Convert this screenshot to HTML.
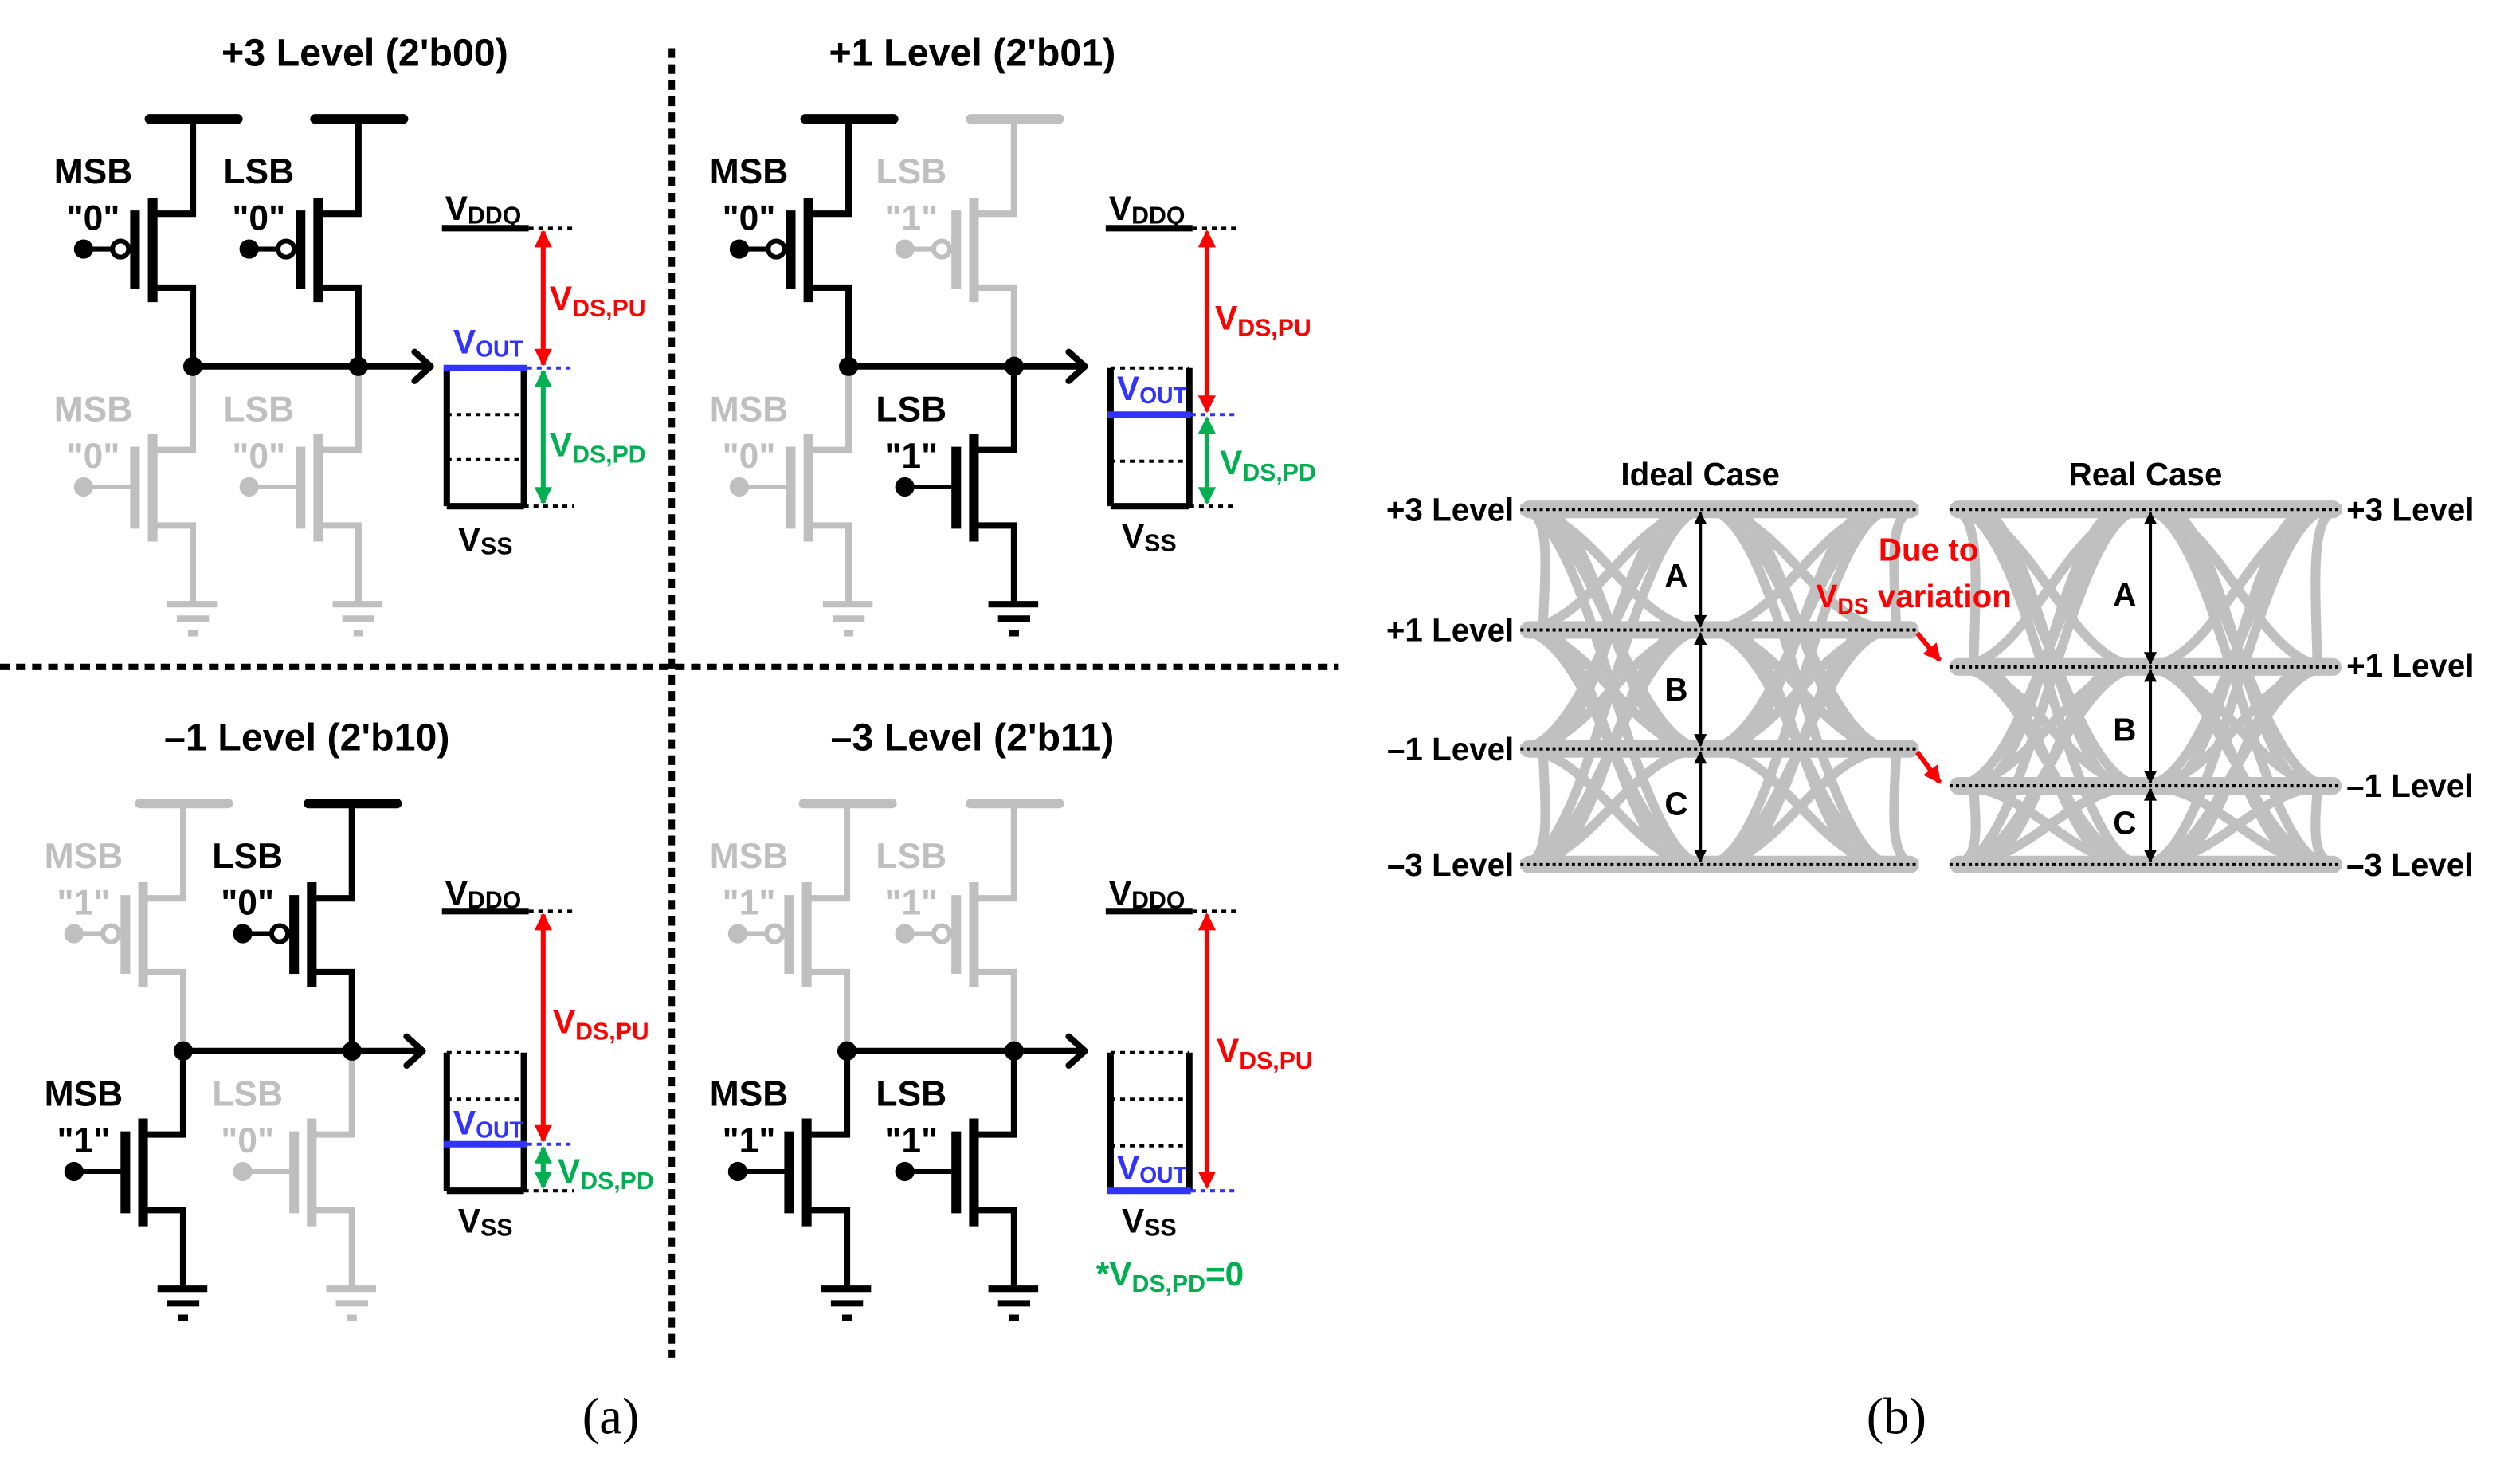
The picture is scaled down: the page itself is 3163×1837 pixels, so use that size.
<!DOCTYPE html>
<html><head><meta charset="utf-8"><style>
html,body{margin:0;padding:0;background:#fff}
svg{display:block}
text{font-family:"Liberation Sans",Arial,sans-serif;font-weight:bold}
</style></head><body>
<svg width="3163" height="1837" viewBox="0 0 1568 911" preserveAspectRatio="none" xmlns="http://www.w3.org/2000/svg">
<defs>
<marker id="ar" viewBox="0 0 10 10" refX="9" refY="5" markerWidth="12" markerHeight="11" markerUnits="userSpaceOnUse" orient="auto-start-reverse"><path d="M0 0L10 5L0 10z" fill="#f00"/></marker>
<marker id="ag" viewBox="0 0 10 10" refX="9" refY="5" markerWidth="12" markerHeight="11" markerUnits="userSpaceOnUse" orient="auto-start-reverse"><path d="M0 0L10 5L0 10z" fill="#00b050"/></marker>
<marker id="ak" viewBox="0 0 10 10" refX="9" refY="5" markerWidth="10" markerHeight="8" markerUnits="userSpaceOnUse" orient="auto-start-reverse"><path d="M0 0L10 5L0 10z" fill="#000"/></marker>
<g id="pm" fill="none" stroke="currentColor">
 <path d="M0 -59V0H-25M-25 46H0V95" stroke-width="4"/>
 <path d="M-25 -10V55M-36 -2V47" stroke-width="6"/>
 <path d="M-27 -59H28" stroke-width="6" stroke-linecap="round"/>
 <path d="M-68 22H-50" stroke-width="3"/>
 <circle cx="-45" cy="22" r="5" stroke-width="3" fill="#fff"/>
 <circle cx="-68" cy="22" r="6" fill="currentColor" stroke="none"/>
</g>
<g id="nm" fill="none" stroke="currentColor">
 <path d="M0 -52V0H-25M-25 47H0V96" stroke-width="4"/>
 <path d="M-25 -10V57M-36 -2V49" stroke-width="6"/>
 <path d="M-68 23H-36" stroke-width="3"/>
 <circle cx="-68" cy="23" r="6" fill="currentColor" stroke="none"/>
 <path d="M-16 96H15M-10 105H10M-3 114H3" stroke-width="4"/>
</g>
<g id="ei" fill="none" stroke="#c0c0c0" stroke-width="6">
 <path d="M-58 317C-12 317 12 392 58 392M-58 392C-12 392 12 317 58 317M-58 317C-12 317 12 466 58 466M-58 466C-12 466 12 317 58 317M-58 317C-12 317 12 538 58 538M-58 538C-12 538 12 317 58 317M-58 392C-12 392 12 466 58 466M-58 466C-12 466 12 392 58 392M-58 392C-12 392 12 538 58 538M-58 538C-12 538 12 392 58 392M-58 466C-12 466 12 538 58 538M-58 538C-12 538 12 466 58 466"/>
 <path d="M-46 317C-8 317 8 466 46 466M-46 466C-8 466 8 317 46 317M-46 392C-8 392 8 538 46 538M-46 538C-8 538 8 392 46 392"/>
</g>
<g id="er" fill="none" stroke="#c0c0c0" stroke-width="6">
 <path d="M-58 317C-12 317 12 415 58 415M-58 415C-12 415 12 317 58 317M-58 317C-12 317 12 489 58 489M-58 489C-12 489 12 317 58 317M-58 317C-12 317 12 538 58 538M-58 538C-12 538 12 317 58 317M-58 415C-12 415 12 489 58 489M-58 489C-12 489 12 415 58 415M-58 415C-12 415 12 538 58 538M-58 538C-12 538 12 415 58 415M-58 489C-12 489 12 538 58 538M-58 538C-12 538 12 489 58 489"/>
 <path d="M-46 317C-8 317 8 489 46 489M-46 489C-8 489 8 317 46 317M-46 415C-8 415 8 538 46 538M-46 538C-8 538 8 415 46 415"/>
</g>
</defs>

<path d="M418 30V845M0 415H833" stroke="#000" stroke-width="4" stroke-dasharray="6 4" fill="none"/>

<g font-size="24" text-anchor="middle">
<text x="227" y="41">+3 Level (2'b00)</text>
<text x="605" y="41">+1 Level (2'b01)</text>
<text x="191" y="467">–1 Level (2'b10)</text>
<text x="605" y="467">–3 Level (2'b11)</text>
</g>

<use href="#pm" x="120" y="133" style="color:#000"/>
<use href="#pm" x="223" y="133" style="color:#000"/>
<use href="#nm" x="120" y="280" style="color:#bfbfbf"/>
<use href="#nm" x="223" y="280" style="color:#bfbfbf"/>
<use href="#pm" x="528" y="133" style="color:#000"/>
<use href="#pm" x="631" y="133" style="color:#bfbfbf"/>
<use href="#nm" x="528" y="280" style="color:#bfbfbf"/>
<use href="#nm" x="631" y="280" style="color:#000"/>
<use href="#pm" x="114" y="559" style="color:#bfbfbf"/>
<use href="#pm" x="219" y="559" style="color:#000"/>
<use href="#nm" x="114" y="706" style="color:#000"/>
<use href="#nm" x="219" y="706" style="color:#bfbfbf"/>
<use href="#pm" x="527" y="559" style="color:#bfbfbf"/>
<use href="#pm" x="631" y="559" style="color:#bfbfbf"/>
<use href="#nm" x="527" y="706" style="color:#000"/>
<use href="#nm" x="631" y="706" style="color:#000"/>

<g stroke="#000" stroke-width="4" fill="none" stroke-linecap="round" stroke-linejoin="round">
<path d="M120 228H268M258 219L268 228L258 237"/>
<path d="M528 228H675M665 219L675 228L665 237"/>
<path d="M114 654H263M253 645L263 654L253 663"/>
<path d="M527 654H675M665 645L675 654L665 663"/>
</g>
<g fill="#000">
<circle cx="120" cy="228" r="6"/><circle cx="223" cy="228" r="6"/>
<circle cx="528" cy="228" r="6"/><circle cx="631" cy="228" r="6"/>
<circle cx="114" cy="654" r="6"/><circle cx="219" cy="654" r="6"/>
<circle cx="527" cy="654" r="6"/><circle cx="631" cy="654" r="6"/>
</g>

<g font-size="22" text-anchor="middle">
<text x="58" y="114">MSB</text><text x="58" y="143">"0"</text>
<text x="161" y="114">LSB</text><text x="161" y="143">"0"</text>
<text x="58" y="262" fill="#bfbfbf">MSB</text><text x="58" y="291" fill="#bfbfbf">"0"</text>
<text x="161" y="262" fill="#bfbfbf">LSB</text><text x="161" y="291" fill="#bfbfbf">"0"</text>
<text x="466" y="114">MSB</text><text x="466" y="143">"0"</text>
<text x="567" y="114" fill="#bfbfbf">LSB</text><text x="567" y="143" fill="#bfbfbf">"1"</text>
<text x="466" y="262" fill="#bfbfbf">MSB</text><text x="466" y="291" fill="#bfbfbf">"0"</text>
<text x="567" y="262">LSB</text><text x="567" y="291">"1"</text>
<text x="52" y="540" fill="#bfbfbf">MSB</text><text x="52" y="569" fill="#bfbfbf">"1"</text>
<text x="154" y="540">LSB</text><text x="154" y="569">"0"</text>
<text x="52" y="688">MSB</text><text x="52" y="717">"1"</text>
<text x="154" y="688" fill="#bfbfbf">LSB</text><text x="154" y="717" fill="#bfbfbf">"0"</text>
<text x="466" y="540" fill="#bfbfbf">MSB</text><text x="466" y="569" fill="#bfbfbf">"1"</text>
<text x="567" y="540" fill="#bfbfbf">LSB</text><text x="567" y="569" fill="#bfbfbf">"1"</text>
<text x="466" y="688">MSB</text><text x="466" y="717">"1"</text>
<text x="567" y="688">LSB</text><text x="567" y="717">"1"</text>
</g>

<g fill="none">
<path d="M275 142H329M278 229V315M326 229V315M278 315H326" stroke="#000" stroke-width="4"/>
<path d="M329 142H357M278 258H326M278 286H326M326 315H357" stroke="#000" stroke-width="2" stroke-dasharray="3 3"/>
<path d="M276 229H328" stroke="#33f" stroke-width="4"/>
<path d="M328 229H357" stroke="#33f" stroke-width="2" stroke-dasharray="3 3"/>
<path d="M338 144V227" stroke="#f00" stroke-width="3" marker-start="url(#ar)" marker-end="url(#ar)"/>
<path d="M338 231V313" stroke="#00b050" stroke-width="3" marker-start="url(#ag)" marker-end="url(#ag)"/>
<path d="M688 142H742M691 229V315M740 229V315M691 315H740" stroke="#000" stroke-width="4"/>
<path d="M742 142H770M691 229H740M691 287H740M740 315H770" stroke="#000" stroke-width="2" stroke-dasharray="3 3"/>
<path d="M689 258H741" stroke="#33f" stroke-width="4"/>
<path d="M741 258H770" stroke="#33f" stroke-width="2" stroke-dasharray="3 3"/>
<path d="M751 144V256" stroke="#f00" stroke-width="3" marker-start="url(#ar)" marker-end="url(#ar)"/>
<path d="M751 260V313" stroke="#00b050" stroke-width="3" marker-start="url(#ag)" marker-end="url(#ag)"/>
<path d="M275 567H329M278 655V741M326 655V741M278 741H326" stroke="#000" stroke-width="4"/>
<path d="M329 567H357M278 655H326M278 684H326M326 741H357" stroke="#000" stroke-width="2" stroke-dasharray="3 3"/>
<path d="M276 712H328" stroke="#33f" stroke-width="4"/>
<path d="M328 712H357" stroke="#33f" stroke-width="2" stroke-dasharray="3 3"/>
<path d="M338 569V710" stroke="#f00" stroke-width="3" marker-start="url(#ar)" marker-end="url(#ar)"/>
<path d="M338 714V739" stroke="#00b050" stroke-width="3" marker-start="url(#ag)" marker-end="url(#ag)"/>
<path d="M688 567H742M691 655V741M740 655V741" stroke="#000" stroke-width="4"/>
<path d="M742 567H770M691 655H740M691 684H740M691 713H740" stroke="#000" stroke-width="2" stroke-dasharray="3 3"/>
<path d="M689 741H741" stroke="#33f" stroke-width="4"/>
<path d="M741 741H770" stroke="#33f" stroke-width="2" stroke-dasharray="3 3"/>
<path d="M751 569V739" stroke="#f00" stroke-width="3" marker-start="url(#ar)" marker-end="url(#ar)"/>
</g>

<g font-size="21">
<text x="277" y="137">V<tspan font-size="15" dy="2">DDQ</tspan></text>
<text x="285" y="343">V<tspan font-size="15" dy="2">SS</tspan></text>
<text x="282" y="220" fill="#33f">V<tspan font-size="14" dy="2">OUT</tspan></text>
<text x="342" y="193" fill="#f00">V<tspan font-size="15" dy="4">DS,PU</tspan></text>
<text x="342" y="284" fill="#00b050">V<tspan font-size="15" dy="4">DS,PD</tspan></text>
<text x="690" y="137">V<tspan font-size="15" dy="2">DDQ</tspan></text>
<text x="698" y="341">V<tspan font-size="15" dy="2">SS</tspan></text>
<text x="695" y="249" fill="#33f">V<tspan font-size="14" dy="2">OUT</tspan></text>
<text x="756" y="205" fill="#f00">V<tspan font-size="15" dy="4">DS,PU</tspan></text>
<text x="759" y="295" fill="#00b050">V<tspan font-size="15" dy="4">DS,PD</tspan></text>
<text x="277" y="563">V<tspan font-size="15" dy="2">DDQ</tspan></text>
<text x="285" y="767">V<tspan font-size="15" dy="2">SS</tspan></text>
<text x="282" y="706" fill="#33f">V<tspan font-size="14" dy="2">OUT</tspan></text>
<text x="344" y="643" fill="#f00">V<tspan font-size="15" dy="4">DS,PU</tspan></text>
<text x="347" y="736" fill="#00b050">V<tspan font-size="15" dy="4">DS,PD</tspan></text>
<text x="690" y="563">V<tspan font-size="15" dy="2">DDQ</tspan></text>
<text x="698" y="767">V<tspan font-size="15" dy="2">SS</tspan></text>
<text x="695" y="734" fill="#33f">V<tspan font-size="14" dy="2">OUT</tspan></text>
<text x="757" y="661" fill="#f00">V<tspan font-size="15" dy="4">DS,PU</tspan></text>
<text x="682" y="800" fill="#00b050">*V<tspan font-size="15" dy="4">DS,PD</tspan><tspan dy="-4">=0</tspan></text>
</g>

<text x="380" y="892" text-anchor="middle" font-size="32" style="font-family:'Liberation Serif',serif;font-weight:normal">(a)</text>
<text x="1180" y="892" text-anchor="middle" font-size="32" style="font-family:'Liberation Serif',serif;font-weight:normal">(b)</text>

<svg x="946" y="300" width="248" height="250" viewBox="946 300 248 250" overflow="hidden">
<use href="#ei" x="1003"/>
<use href="#ei" x="1120"/>
<path d="M946 317C965 317 962 345 960 392M946 538C965 538 962 510 960 466M1194 317C1175 317 1178 345 1180 392M1194 538C1175 538 1178 510 1180 466" stroke="#c0c0c0" stroke-width="6" fill="none"/>
</svg>
<svg x="1213" y="300" width="244" height="250" viewBox="1213 300 244 250" overflow="hidden">
<use href="#er" x="1275"/>
<use href="#er" x="1392"/>
<path d="M1213 317C1232 317 1230 350 1228 415M1213 538C1232 538 1230 520 1228 489M1457 317C1438 317 1440 350 1442 415M1457 538C1438 538 1440 520 1442 489" stroke="#c0c0c0" stroke-width="6" fill="none"/>
</svg>
<g fill="#c0c0c0">
<rect x="946" y="311.5" width="248" height="11" rx="5.5"/>
<rect x="946" y="386.5" width="248" height="11" rx="5.5"/>
<rect x="946" y="460.5" width="248" height="11" rx="5.5"/>
<rect x="946" y="532.5" width="248" height="11" rx="5.5"/>
<rect x="1213" y="311.5" width="244" height="11" rx="5.5"/>
<rect x="1213" y="409.5" width="244" height="11" rx="5.5"/>
<rect x="1213" y="483.5" width="244" height="11" rx="5.5"/>
<rect x="1213" y="532.5" width="244" height="11" rx="5.5"/>
</g>
<path d="M946 317H1194M946 392H1194M946 466H1194M946 538H1194M1213 317H1457M1213 415H1457M1213 489H1457M1213 538H1457" stroke="#000" stroke-width="2" stroke-dasharray="2 2" fill="none"/>
<g stroke="#000" stroke-width="2" fill="none">
<path d="M1058 319V390" marker-start="url(#ak)" marker-end="url(#ak)"/>
<path d="M1058 394V464" marker-start="url(#ak)" marker-end="url(#ak)"/>
<path d="M1058 468V536" marker-start="url(#ak)" marker-end="url(#ak)"/>
<path d="M1338 319V413" marker-start="url(#ak)" marker-end="url(#ak)"/>
<path d="M1338 417V487" marker-start="url(#ak)" marker-end="url(#ak)"/>
<path d="M1338 491V536" marker-start="url(#ak)" marker-end="url(#ak)"/>
</g>
<g stroke="#f00" stroke-width="3" fill="none">
<path d="M1193 394L1207 411" marker-end="url(#ar)"/>
<path d="M1193 468L1207 487" marker-end="url(#ar)"/>
</g>
<g font-size="20">
<text x="1058" y="302" text-anchor="middle">Ideal Case</text>
<text x="1335" y="302" text-anchor="middle">Real Case</text>
<text x="1043" y="365" text-anchor="middle">A</text>
<text x="1043" y="436" text-anchor="middle">B</text>
<text x="1043" y="507" text-anchor="middle">C</text>
<text x="1322" y="377" text-anchor="middle">A</text>
<text x="1322" y="461" text-anchor="middle">B</text>
<text x="1322" y="519" text-anchor="middle">C</text>
<text x="942" y="324" text-anchor="end">+3 Level</text>
<text x="942" y="399" text-anchor="end">+1 Level</text>
<text x="942" y="473" text-anchor="end">–1 Level</text>
<text x="942" y="545" text-anchor="end">–3 Level</text>
<text x="1460" y="324">+3 Level</text>
<text x="1460" y="421">+1 Level</text>
<text x="1460" y="496">–1 Level</text>
<text x="1460" y="545">–3 Level</text>
<text x="1200" y="349" text-anchor="middle" fill="#f00">Due  to</text>
<text x="1130" y="378" fill="#f00">V<tspan font-size="14" dy="4">DS</tspan><tspan dy="-4"> variation</tspan></text>
</g>
</svg>
</body></html>
